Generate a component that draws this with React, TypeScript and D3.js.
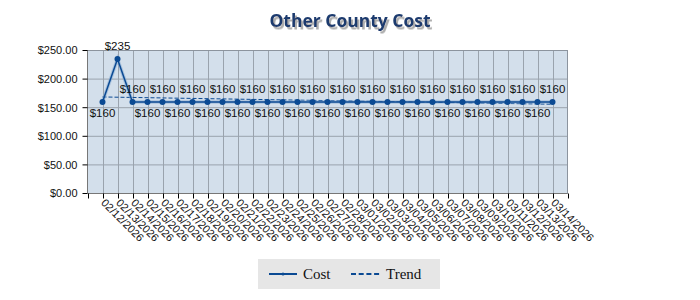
import React from "react";
import * as d3 from "d3";

const dates = [
  "02/12/2026","02/13/2026","02/14/2026","02/15/2026","02/16/2026","02/17/2026","02/18/2026",
  "02/19/2026","02/20/2026","02/21/2026","02/22/2026","02/23/2026","02/24/2026","02/25/2026",
  "02/26/2026","02/27/2026","02/28/2026","03/01/2026","03/02/2026","03/03/2026","03/04/2026",
  "03/05/2026","03/06/2026","03/07/2026","03/08/2026","03/09/2026","03/10/2026","03/11/2026",
  "03/12/2026","03/13/2026","03/14/2026",
];
const cost = [
  160, 235, 160, 160, 160, 160, 160, 160, 160, 160, 160, 160, 160, 160, 160, 160,
  160, 160, 160, 160, 160, 160, 160, 160, 160, 160, 160, 160, 160, 160, 160,
];
const yTicks = [0, 50, 100, 150, 200, 250];
const title = "Other County Cost";
const legendLabels = ["Cost", "Trend"];

const W = 700, H = 300;
const L = 87.5, R = 567.5, T = 50.5, B = 193.5;
const BLUE = "#0b4a93";

export default function App() {
  const n = cost.length;
  const x = d3.scaleLinear().domain([-1, n]).range([L, R]);
  const y = d3.scaleLinear().domain([0, 250]).range([B, T]);
  const idx = d3.range(n);
  const line = d3.line<number>().x((i) => x(i)).y((i) => y(cost[i]));

  // linear regression trend
  const mx = d3.mean(idx)!;
  const my = d3.mean(cost)!;
  const sxy = d3.sum(idx, (i) => (i - mx) * (cost[i] - my));
  const sxx = d3.sum(idx, (i) => (i - mx) * (i - mx));
  const slope = sxy / sxx;
  const icpt = my - slope * mx;
  const t0 = icpt, t1 = icpt + slope * (n - 1);

  const fmtAxis = (v: number) => "$" + d3.format(".2f")(v);
  const fmtLbl = (v: number) => "$" + d3.format("d")(v);
  const above = (i: number) => (i === 0 ? false : i === 1 ? true : i % 2 === 0);

  const font = "'Liberation Sans', Arial, sans-serif";

  return (
    <svg width={W} height={H} style={{ position: "absolute", left: 0, top: 0 }}>
      <defs>
        <filter id="tshadow" x="-10%" y="-30%" width="120%" height="180%">
          <feDropShadow dx={2} dy={2.5} stdDeviation={0.6} floodColor="#9a9a9a" floodOpacity={0.8} />
        </filter>
      </defs>
      <rect x={0} y={0} width={W} height={H} fill="#fff" />
      {/* title */}
      <text x={350} y={27} textAnchor="middle" fontFamily="'Open Sans', sans-serif" fontWeight="bold" fontSize={17.5} fill="#1c3a6e" filter="url(#tshadow)">{title}</text>

      {/* plot area */}
      <rect x={L} y={T} width={R - L} height={B - T} fill="#d3dfeb" />
      {yTicks.map((v) => (
        <line key={"hg" + v} x1={L} x2={R} y1={y(v)} y2={y(v)} stroke="#9aa3ad" strokeWidth={1} />
      ))}
      {idx.map((i) => (
        <line key={"vg" + i} x1={Math.round(x(i)) + 0.5} x2={Math.round(x(i)) + 0.5} y1={T} y2={B} stroke="#9aa3ad" strokeWidth={1} />
      ))}
      <rect x={L} y={T} width={R - L} height={B - T} fill="none" stroke="#8c949e" strokeWidth={1} />

      {/* y axis */}
      <line x1={L} x2={L} y1={T} y2={B} stroke="#777" />
      {yTicks.map((v) => (
        <g key={"yt" + v}>
          <line x1={L - 5} x2={L} y1={y(v)} y2={y(v)} stroke="#000" />
          <text x={L - 10} y={y(v)} dy="0.35em" textAnchor="end" fontFamily={font} fontSize={11} fill="#111">{fmtAxis(v)}</text>
        </g>
      ))}

      {/* x axis */}
      <line x1={L} x2={R} y1={B} y2={B} stroke="#777" />
      {d3.range(-1, n + 1).map((i) => (
        <line key={"xt" + i} x1={Math.round(x(i)) + 0.5} x2={Math.round(x(i)) + 0.5} y1={B} y2={B + 5} stroke="#000" />
      ))}
      {idx.map((i) => (
        <text key={"xl" + i} transform={`translate(${x(i) - 2},${B + 10}) rotate(45)`} fontFamily={font} fontSize={11} fill="#111">{dates[i]}</text>
      ))}

      {/* trend */}
      <line x1={x(0)} x2={x(n - 1)} y1={y(t0)} y2={y(t1)} stroke={BLUE} strokeWidth={1} strokeDasharray="4,2" />

      {/* cost series */}
      <path d={line(idx)!} fill="none" stroke="#7fa6cf" strokeWidth={3.5} opacity={0.5} />
      <path d={line(idx)!} fill="none" stroke={BLUE} strokeWidth={1.5} />
      {idx.map((i) => (
        <circle key={"pt" + i} cx={x(i)} cy={y(cost[i])} r={3} fill={BLUE} />
      ))}
      {idx.map((i) => (
        <text key={"lb" + i} x={x(i)} y={above(i) ? y(cost[i]) - 9 : y(cost[i]) + 15} textAnchor="middle" fontFamily={font} fontSize={11.5} fill="#111">{fmtLbl(cost[i])}</text>
      ))}

      {/* legend */}
      <rect x={258} y={259} width={182} height={30} fill="#e6e6e6" />
      <line x1={269} x2={297} y1={274} y2={274} stroke={BLUE} strokeWidth={2} />
      <circle cx={283} cy={274} r={1.5} fill={BLUE} />
      <text x={303} y={279} fontFamily="'Liberation Serif', 'Times New Roman', serif" fontSize={15} fill="#111">{legendLabels[0]}</text>
      <line x1={351} x2={380} y1={274} y2={274} stroke={BLUE} strokeWidth={2} strokeDasharray="5,2.7" />
      <text x={386} y={279} fontFamily="'Liberation Serif', 'Times New Roman', serif" fontSize={15} fill="#111">{legendLabels[1]}</text>
    </svg>
  );
}
